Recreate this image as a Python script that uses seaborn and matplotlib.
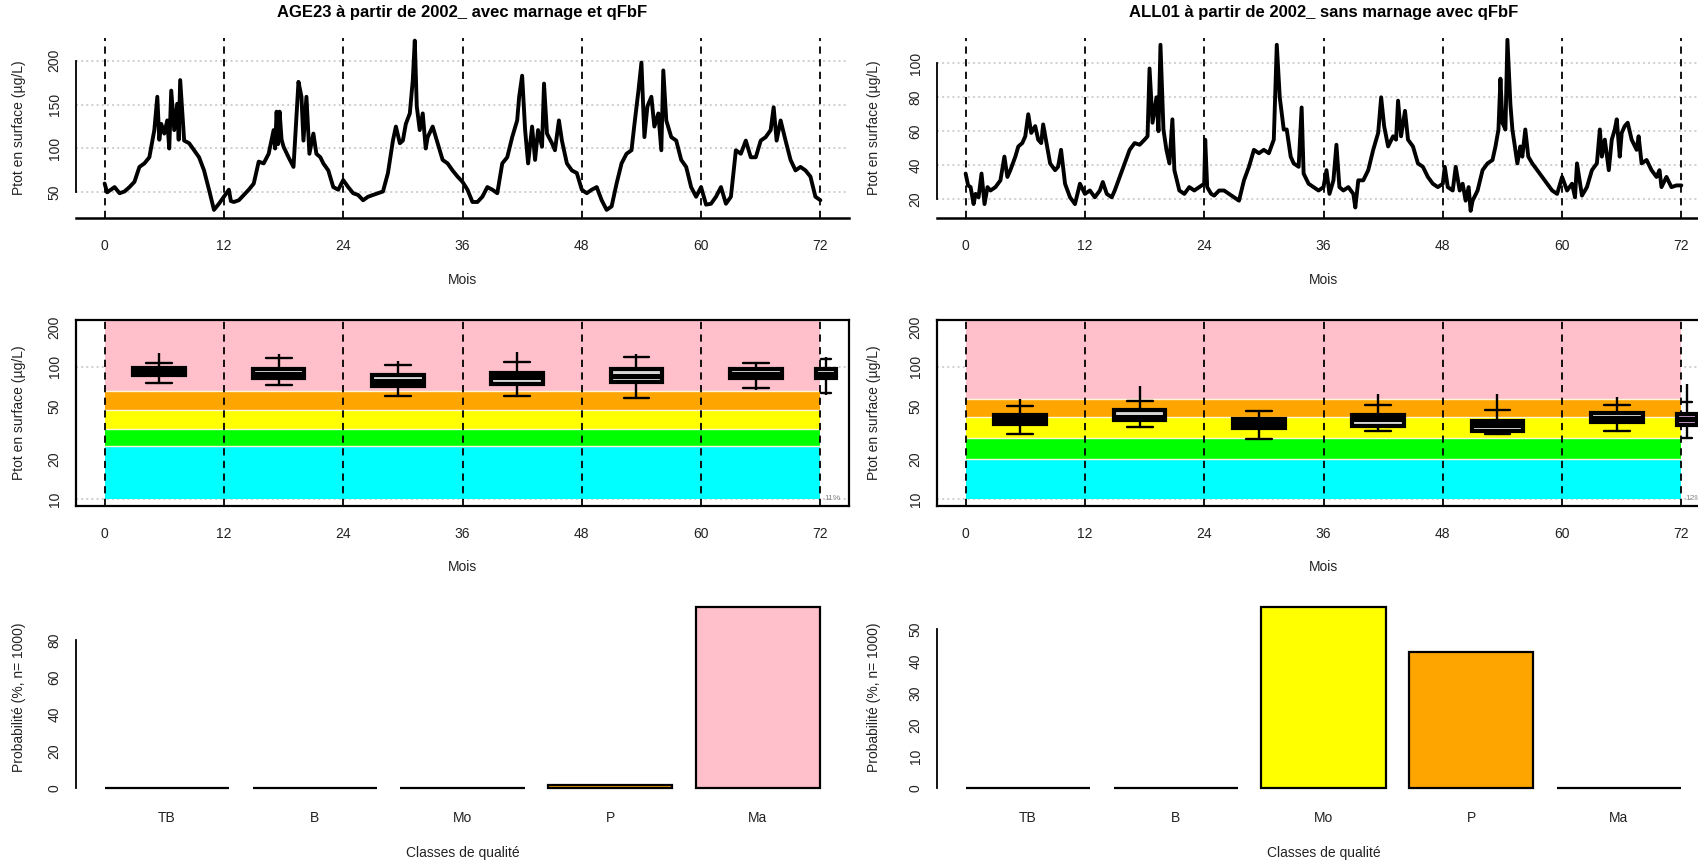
import matplotlib
matplotlib.use("Agg")
import matplotlib.pyplot as plt
import matplotlib.ticker as mticker
import seaborn as sns

# ---- data ----
titles = ["AGE23 à partir de 2002_ avec marnage et qFbF",
          "ALL01 à partir de 2002_ sans marnage avec qFbF"]
month_ticks = [0, 12, 24, 36, 48, 60, 72]

# daily Ptot series, sampled by eye (month, µg/L)
age_months = [0, 0.25, 0.5, 1, 1.5, 2, 2.5, 3, 3.5, 4, 4.5, 5, 5.3, 5.5, 5.7, 6, 6.3, 6.5, 6.7, 7,
              7.3, 7.45, 7.6, 8, 8.5, 9, 9.5, 10, 10.5, 11, 11.5, 12, 12.5, 12.7, 13, 13.5, 14, 14.5,
              15, 15.5, 16, 16.5, 17, 17.15, 17.3, 17.45, 17.6, 17.8, 18, 18.5, 19, 19.5, 19.8, 20,
              20.3, 20.6, 21, 21.3, 21.7, 22, 22.5, 23, 23.5, 24, 24.5, 25, 25.5, 26, 26.5, 27, 27.5,
              28, 28.5, 29, 29.3, 29.7, 30, 30.3, 30.7, 31, 31.2, 31.4, 31.7, 32, 32.3, 32.5, 33,
              33.5, 34, 34.5, 35, 35.5, 36, 36.5, 37, 37.5, 38, 38.5, 39, 39.5, 40, 40.5, 41, 41.5,
              41.7, 42, 42.3, 42.6, 43, 43.3, 43.6, 44, 44.2, 44.5, 45, 45.3, 45.7, 46, 46.5, 47,
              47.5, 48, 48.5, 49, 49.5, 50, 50.5, 51, 51.5, 52, 52.5, 53, 53.3, 53.7, 54, 54.3, 54.6,
              55, 55.3, 55.7, 56, 56.2, 56.5, 57, 57.5, 58, 58.5, 59, 59.5, 60, 60.5, 61, 61.5, 62,
              62.5, 63, 63.5, 64, 64.5, 65, 65.5, 66, 66.5, 67, 67.3, 67.6, 68, 68.5, 69, 69.5, 70,
              70.5, 71, 71.5, 72]
age_ptot = [60, 50, 52, 56, 49, 51, 56, 62, 79, 83, 90, 121, 159, 110, 128, 117, 132, 100, 166, 121,
            151, 110, 178, 109, 106, 98, 90, 75, 53, 30, 37, 45, 53, 40, 39, 41, 47, 53,
            60, 85, 83, 94, 121, 100, 142, 105, 142, 110, 102, 90, 79, 176, 159, 109,
            159, 94, 117, 94, 90, 83, 75, 56, 53, 64, 56, 49, 47, 41, 45, 47, 49,
            51, 72, 109, 125, 106, 109, 128, 140, 178, 223, 148, 121, 140, 100, 113, 125,
            106, 87, 83, 75, 68, 62, 53, 39, 39, 45, 56, 53, 49, 83, 90, 113, 132,
            159, 183, 121, 83, 125, 87, 121, 102, 174, 117, 106, 98, 132, 109, 83, 75,
            72, 53, 49, 53, 56, 41, 30, 34, 60, 83, 94, 98, 128, 166, 198, 113, 148,
            159, 125, 140, 98, 189, 132, 113, 109, 87, 79, 56, 45, 56, 36, 37, 45, 56,
            37, 45, 98, 94, 109, 90, 90, 109, 113, 121, 147, 109, 132, 109, 87, 75, 79,
            75, 68, 45, 41]

all_months = [0, 0.25, 0.5, 0.8, 1, 1.3, 1.6, 1.9, 2.2, 2.5, 3, 3.5, 3.9, 4.2, 4.5, 5, 5.3, 5.7, 6,
              6.3, 6.6, 7, 7.3, 7.6, 7.8, 8.2, 8.5, 9, 9.3, 9.6, 10, 10.5, 11, 11.5, 12, 12.5, 13,
              13.5, 13.8, 14.2, 14.7, 15, 15.5, 16, 16.5, 17, 17.5, 18, 18.3, 18.5, 18.8, 19.2,
              19.4, 19.6, 19.9, 20.2, 20.5, 20.8, 21, 21.5, 22, 22.5, 23, 23.5, 24, 24.1, 24.3,
              24.7, 25, 25.5, 26, 26.5, 27, 27.5, 28, 28.5, 29, 29.5, 30, 30.5, 31, 31.3, 31.6, 32,
              32.3, 32.7, 33, 33.5, 33.8, 34, 34.5, 35, 35.5, 36, 36.3, 36.6, 37, 37.3, 37.6, 38,
              38.5, 39, 39.2, 39.5, 40, 40.5, 41, 41.5, 41.8, 42.1, 42.5, 43, 43.3, 43.5, 43.8,
              44.2, 44.5, 45, 45.5, 46, 46.5, 47, 47.5, 48, 48.2, 48.5, 49, 49.3, 49.7, 50, 50.3,
              50.6, 50.8, 51, 51.5, 52, 52.5, 53, 53.3, 53.6, 53.8, 54, 54.3, 54.5, 54.8, 55,
              55.5, 55.8, 56, 56.3, 56.6, 57, 57.5, 58, 58.5, 59, 59.5, 60, 60.5, 61, 61.3, 61.5,
              62, 62.5, 63, 63.5, 63.8, 64, 64.3, 64.7, 65, 65.3, 65.5, 65.8, 66, 66.3, 66.6, 67,
              67.5, 67.7, 68, 68.5, 69, 69.5, 69.8, 70, 70.5, 71, 71.5, 72]
all_ptot = [35, 28, 27, 17, 23, 21, 35, 17, 27, 25, 27, 31, 45, 33, 37, 45, 51, 53, 57,
            70, 59, 63, 55, 53, 64, 51, 41, 37, 39, 49, 29, 21, 17, 29, 23, 25, 21,
            25, 30, 23, 21, 25, 33, 41, 49, 53, 52, 55, 57, 97, 65, 80,
            60, 111, 61, 49, 41, 67, 37, 25, 23, 27, 25, 27, 29, 55, 27,
            23, 22, 25, 25, 23, 21, 19, 31, 39, 49, 47, 49, 47, 55, 111, 80, 61,
            61, 45, 41, 39, 74, 35, 29, 27, 25, 27, 37, 23, 31, 52, 27, 25,
            27, 23, 15, 31, 31, 37, 49, 59, 80, 63, 51, 57, 55, 78, 57,
            72, 55, 51, 41, 39, 33, 29, 27, 29, 39, 27, 25, 39, 25, 29, 19,
            27, 13, 19, 25, 37, 41, 43, 51, 61, 91, 65, 61, 114, 76, 61,
            41, 51, 45, 61, 45, 41, 37, 33, 29, 25, 23, 33, 25, 29, 21, 41,
            22, 27, 37, 41, 61, 45, 55, 37, 55, 61, 67, 45, 59, 63, 65, 55,
            49, 57, 41, 43, 37, 33, 37, 27, 33, 27, 28, 28]

# yearly boxplots (last one = whole period)
box_months = [5.5, 17.5, 29.5, 41.5, 53.5, 65.5, 72.6]
box_widths = [5.2, 5.2, 5.2, 5.2, 5.2, 5.2, 2.0]
age_min = [75.0, 72.9, 60.4, 60.4, 58.3, 66.4, 60.8]
age_whislo = [75.0, 72.9, 60.4, 60.4, 58.3, 69.2, 63.7]
age_q1 = [86.3, 81.5, 71.6, 74.1, 76.8, 81.5, 81.5]
age_med = [92.0, 88.0, 77.7, 83.9, 85.3, 88.0, 88.0]
age_q3 = [98.2, 95.5, 86.3, 88.9, 95.5, 95.5, 95.5]
age_whishi = [107.3, 115.8, 103.0, 109.2, 117.8, 107.3, 114.0]
age_max = [126.5, 124.2, 110.4, 130.2, 124.2, 107.3, 119.0]

all_min = [30.8, 35.2, 28.5, 32.5, 30.8, 32.5, 29.0]
all_whislo = [30.8, 35.2, 28.5, 32.5, 30.8, 32.5, 29.0]
all_q1 = [37.2, 39.4, 34.6, 35.9, 32.9, 38.3, 36.3]
all_med = [40.1, 42.0, 37.3, 40.3, 36.2, 41.3, 40.1]
all_q3 = [43.3, 47.2, 40.3, 43.3, 38.9, 44.6, 44.0]
all_whishi = [50.4, 54.7, 46.7, 51.6, 47.0, 51.6, 54.1]
all_max = [57.3, 71.1, 46.7, 62.6, 62.6, 59.0, 74.6]

# quality class limits (µg/L), from TB (cyan) up to Ma (pink)
age_limits = [10, 25, 34, 47, 65]
all_limits = [10, 20, 29, 42, 57]
band_colors = ["#00ffff", "#00ff00", "#ffff00", "#ffa500", "#ffc0cb"]
age_pct_note = "11%"
all_pct_note = "12%"

classes = ["TB", "B", "Mo", "P", "Ma"]
age_prob = [0, 0, 0, 2, 98]
all_prob = [0, 0, 57, 43, 0]

# ---- figure geometry (pixels of the 1699x860 picture) ----
W, H = 1699, 860
COLS = [(76, 849), (937, 1710)]
ROWS = [(38, 218.3), (320, 506), (600, 795.5)]
XLIM = (-2.88, 74.88)
YLABEL_X = [-0.0737, -0.081]

sns.set_style("white")
plt.rcParams["font.family"] = ["Liberation Sans", "DejaVu Sans"]
plt.rcParams["font.size"] = 10
plt.rcParams["text.color"] = "#222222"


def add_axes(fig, col, row):
    x0, x1 = COLS[col]
    y0, y1 = ROWS[row]
    return fig.add_axes([x0 / W, 1 - y1 / H, (x1 - x0) / W, (y1 - y0) / H])


def style_ticks(ax, xpad=9):
    ax.tick_params(axis="both", direction="out", length=5.8, width=1.2, colors="black",
                   labelcolor="#222222", labelsize=10)
    ax.tick_params(axis="x", pad=xpad)
    ax.tick_params(axis="y", pad=4.5)
    for lab in ax.get_yticklabels():
        lab.set_rotation(90)
        lab.set_va("center")


def set_labels(ax, col, xlabel, ylabel, xlab_y):
    ax.set_xlabel(xlabel, fontsize=10, color="#222222")
    ax.set_ylabel(ylabel, fontsize=10, color="#222222")
    ax.xaxis.set_label_coords(0.5, xlab_y)
    ax.xaxis.label.set_va("center")
    ax.yaxis.set_label_coords(YLABEL_X[col], 0.5)
    ax.yaxis.label.set_va("center")


def draw_month_lines(ax):
    for m in month_ticks:
        ax.axvline(m, color="black", linestyle=(0, (4, 3)), linewidth=1.3, zorder=3)


def draw_series_panel(fig, col, months, values, yticks, ylim, title):
    ax = add_axes(fig, col, 0)
    ax.grid(axis="y", color="#cfcfcf", linestyle=":", linewidth=1.4)
    draw_month_lines(ax)
    sns.lineplot(x=months, y=values, ax=ax, color="black", linewidth=2.8,
                 estimator=None, zorder=4)
    ax.set_xlim(*XLIM)
    ax.set_ylim(*ylim)
    ax.set_xticks(month_ticks)
    ax.set_yticks(yticks)
    for s in ["top", "right"]:
        ax.spines[s].set_visible(False)
    ax.spines["left"].set_bounds(yticks[0], yticks[-1])
    ax.spines["left"].set_color("black")
    ax.spines["left"].set_linewidth(1.3)
    ax.spines["bottom"].set_color("black")
    ax.spines["bottom"].set_linewidth(1.8)
    style_ticks(ax)
    set_labels(ax, col, "Mois", "Ptot en surface (µg/L)", -0.342)
    ax.text(0.5, 1.139, title, transform=ax.transAxes, fontsize=12, fontweight="bold",
            ha="center", va="center", color="black")
    return ax


def draw_box_panel(fig, col, limits, mins, wlo, q1, med, q3, whi, maxs, note, last_fill):
    ax = add_axes(fig, col, 1)
    ax.set_yscale("log")
    ylim = (10 ** (1 - 0.052), 10 ** (2.301 + 0.052))
    ax.set_ylim(*ylim)
    ax.set_xlim(*XLIM)
    for g in [10, 100]:
        ax.axhline(g, color="#cfcfcf", linestyle=":", linewidth=1.4, zorder=0)
    edges = limits + [ylim[1]]
    for i, c in enumerate(band_colors):
        ax.fill_between([0, 72], edges[i], edges[i + 1], color=c, linewidth=0, zorder=1)
        if i > 0:
            ax.plot([0, 72], [edges[i], edges[i]], color="#fff6d8", linewidth=1.0, zorder=1.5)
    draw_month_lines(ax)

    stats = []
    for i in range(len(box_months)):
        stats.append(dict(whislo=wlo[i], q1=q1[i], med=med[i], q3=q3[i], whishi=whi[i]))
    bp = ax.bxp(stats, positions=box_months, widths=box_widths,
                capwidths=[w * 0.5 for w in box_widths], showfliers=False, patch_artist=True,
                boxprops=dict(facecolor="#d6d6d6", edgecolor="black", linewidth=3.0),
                medianprops=dict(color="black", linewidth=3.6),
                whiskerprops=dict(color="black", linewidth=1.7),
                capprops=dict(color="black", linewidth=1.7), manage_ticks=False, zorder=5)
    bp["boxes"][-1].set_facecolor(last_fill)
    # whiskers reaching past the caps to the extremes
    ax.vlines(box_months, whi, maxs, color="black", linewidth=1.7, zorder=5)
    ax.vlines(box_months, mins, wlo, color="black", linewidth=1.7, zorder=5)

    ax.text(72.4, 10.1, note, fontsize=6, color="#888888", ha="left", va="center", zorder=6)
    ax.set_xticks(month_ticks)
    ax.yaxis.set_major_locator(mticker.FixedLocator([10, 20, 50, 100, 200]))
    ax.yaxis.set_major_formatter(mticker.FixedFormatter(["10", "20", "50", "100", "200"]))
    ax.yaxis.set_minor_locator(mticker.NullLocator())
    for s in ax.spines.values():
        s.set_color("black")
        s.set_linewidth(1.6)
        s.set_zorder(6)
    style_ticks(ax)
    set_labels(ax, col, "Mois", "Ptot en surface (µg/L)", -0.326)
    return ax


def draw_bar_panel(fig, col, probs, yticks):
    ax = add_axes(fig, col, 2)
    sns.barplot(x=classes, y=probs, hue=classes, palette=band_colors, legend=False, ax=ax,
                width=0.843, edgecolor="black", linewidth=1.6, saturation=1, errorbar=None)
    top = max(probs)
    ax.set_ylim(-0.04 * top, 1.04 * top)
    ax.set_xlim(-0.617, 4.617)
    ax.set_yticks(yticks)
    for s in ["top", "right", "bottom"]:
        ax.spines[s].set_visible(False)
    ax.spines["left"].set_bounds(yticks[0], yticks[-1])
    ax.spines["left"].set_color("black")
    ax.spines["left"].set_linewidth(1.3)
    style_ticks(ax, xpad=11)
    ax.tick_params(axis="x", length=0)
    set_labels(ax, col, "Classes de qualité", "Probabilité (%, n= 1000)", -0.294)
    return ax


fig = plt.figure(figsize=(W / 100, H / 100), dpi=100)

draw_series_panel(fig, 0, age_months, age_ptot, [50, 100, 150, 200], (20.4, 226), titles[0])
draw_series_panel(fig, 1, all_months, all_ptot, [20, 40, 60, 80, 100], (8.6, 115), titles[1])

draw_box_panel(fig, 0, age_limits, age_min, age_whislo, age_q1, age_med, age_q3, age_whishi,
               age_max, age_pct_note, "#d6d6d6")
draw_box_panel(fig, 1, all_limits, all_min, all_whislo, all_q1, all_med, all_q3, all_whishi,
               all_max, all_pct_note, "#c99ad0")

draw_bar_panel(fig, 0, age_prob, [0, 20, 40, 60, 80])
draw_bar_panel(fig, 1, all_prob, [0, 10, 20, 30, 40, 50])

fig.savefig("out.png", dpi=100)
